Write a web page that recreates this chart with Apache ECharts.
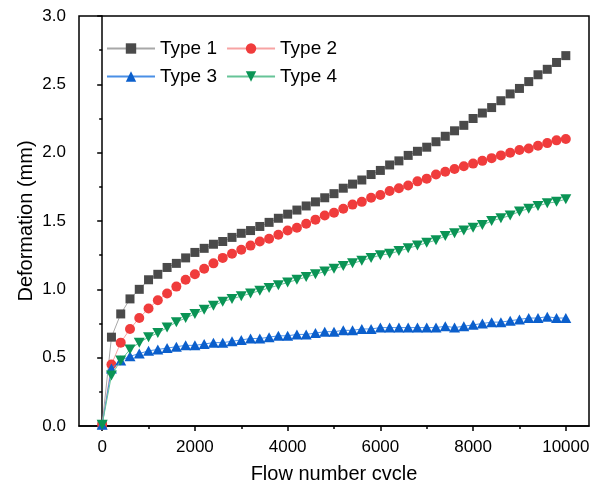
<!DOCTYPE html>
<html>
<head>
<meta charset="utf-8">
<script src="https://cdn.jsdelivr.net/npm/echarts@6/dist/echarts.min.js"></script>
<style>
  html, body { margin: 0; padding: 0; background: #fff; }
  #chart { width: 600px; height: 489px; }
</style>
</head>
<body>
<div id="chart"></div>
<script>
// flow cycles (x)
var cycles = [0, 200, 400, 600, 800, 1000, 1200, 1400, 1600, 1800,
    2000, 2200, 2400, 2600, 2800, 3000, 3200, 3400, 3600, 3800,
    4000, 4200, 4400, 4600, 4800, 5000, 5200, 5400, 5600, 5800,
    6000, 6200, 6400, 6600, 6800, 7000, 7200, 7400, 7600, 7800,
    8000, 8200, 8400, 8600, 8800, 9000, 9200, 9400, 9600, 9800, 10000];

// deformation (mm)
var type1 = [0.01, 0.65, 0.82, 0.93, 1.00, 1.07, 1.11, 1.16, 1.19, 1.23,
    1.27, 1.30, 1.33, 1.35, 1.38, 1.41, 1.43, 1.46, 1.49, 1.52,
    1.55, 1.58, 1.61, 1.64, 1.67, 1.70, 1.74, 1.77, 1.80, 1.84,
    1.87, 1.91, 1.94, 1.98, 2.01, 2.04, 2.08, 2.12, 2.16, 2.20,
    2.25, 2.29, 2.33, 2.38, 2.43, 2.47, 2.52, 2.57, 2.61, 2.66, 2.71];
var type2 = [0.01, 0.45, 0.61, 0.71, 0.79, 0.86, 0.92, 0.97, 1.02, 1.07,
    1.11, 1.15, 1.19, 1.23, 1.26, 1.29, 1.32, 1.35, 1.37, 1.40,
    1.43, 1.45, 1.48, 1.51, 1.54, 1.56, 1.59, 1.62, 1.64, 1.67,
    1.69, 1.72, 1.74, 1.76, 1.79, 1.81, 1.84, 1.86, 1.88, 1.90,
    1.92, 1.94, 1.96, 1.98, 2.00, 2.02, 2.03, 2.05, 2.07, 2.09, 2.10];
var type3 = [0.01, 0.42, 0.48, 0.51, 0.53, 0.55, 0.56, 0.57, 0.58, 0.59,
    0.59, 0.60, 0.61, 0.61, 0.62, 0.63, 0.64, 0.64, 0.65, 0.66,
    0.66, 0.67, 0.67, 0.68, 0.69, 0.69, 0.70, 0.70, 0.71, 0.71,
    0.72, 0.72, 0.72, 0.72, 0.72, 0.72, 0.72, 0.73, 0.72, 0.73,
    0.74, 0.75, 0.76, 0.76, 0.77, 0.78, 0.79, 0.79, 0.80, 0.79, 0.79];
var type4 = [0.01, 0.37, 0.48, 0.56, 0.61, 0.65, 0.68, 0.72, 0.76, 0.79,
    0.82, 0.85, 0.88, 0.91, 0.93, 0.95, 0.97, 0.99, 1.01, 1.03,
    1.05, 1.07, 1.09, 1.11, 1.13, 1.15, 1.17, 1.19, 1.21, 1.23,
    1.25, 1.26, 1.28, 1.30, 1.32, 1.34, 1.36, 1.39, 1.41, 1.43,
    1.45, 1.47, 1.50, 1.52, 1.54, 1.57, 1.59, 1.61, 1.63, 1.64, 1.66];

var xTicks = [0, 2000, 4000, 6000, 8000, 10000];
var xMinorTicks = [1000, 3000, 5000, 7000, 9000];

var names = ['Type 1', 'Type 2', 'Type 3', 'Type 4'];
var symbols = ['rect', 'circle', 'triangle', 'path://M0,0 L10,0 L5,9 Z'];
var sizes = [9, 10, [11, 10], [11, 10]];
var markColors = ['#4a4a4a', '#f03c3c', '#0b5fcc', '#0a9455'];
var lineColors = ['#a8a8a8', '#f7a3a3', '#4a8fe6', '#66c497'];
var allData = [type1, type2, type3, type4];

var font = 'Liberation Sans, Arial, sans-serif';

function pairs(vals) {
    var out = [];
    for (var i = 0; i < cycles.length; i++) {
        out.push([cycles[i], vals[i]]);
    }
    return out;
}

var series = [];
for (var k = 0; k < names.length; k++) {
    series.push({
        name: names[k],
        type: 'line',
        data: pairs(allData[k]),
        symbol: symbols[k],
        symbolSize: sizes[k],
        showAllSymbol: true,
        lineStyle: { color: lineColors[k], width: 1 },
        itemStyle: { color: markColors[k] },
        emphasis: { disabled: true },
        z: 2 + k
    });
}

var chart = echarts.init(document.getElementById('chart'));
var option = {
    animation: false,
    backgroundColor: '#fff',
    grid: {
        left: 79, right: 11, top: 16, bottom: 61,
        show: true, borderColor: '#000', borderWidth: 1.5, backgroundColor: 'transparent'
    },
    legend: {
        data: names,
        left: 101, top: 34, width: 240,
        itemWidth: 48, itemHeight: 13, itemGap: 9,
        textStyle: { fontFamily: font, fontSize: 19, color: '#000' }
    },
    xAxis: [{
        type: 'value',
        min: -500, max: 10500,
        name: 'Flow number cvcle',
        nameLocation: 'middle',
        nameGap: 38,
        nameMoveOverlap: false,
        nameTextStyle: { fontFamily: font, fontSize: 20, color: '#000' },
        splitLine: { show: false },
        axisLine: { lineStyle: { color: '#000', width: 1.5 } },
        axisTick: { customValues: xTicks, length: 5, lineStyle: { color: '#000', width: 1.5 } },
        axisLabel: {
            customValues: xTicks, margin: 13, fontFamily: font, fontSize: 17, color: '#000',
            formatter: function (v) { return String(v); }
        }
    }, {
        type: 'value',
        position: 'bottom',
        min: -500, max: 10500,
        splitLine: { show: false },
        axisLine: { show: false },
        axisTick: { customValues: xMinorTicks, length: 3, lineStyle: { color: '#000', width: 1.5 } },
        axisLabel: { show: false }
    }],
    yAxis: {
        type: 'value',
        min: 0, max: 3, interval: 0.5,
        name: 'Deformation (mm)',
        nameLocation: 'middle',
        nameGap: 43,
        nameMoveOverlap: false,
        nameTextStyle: { fontFamily: font, fontSize: 20, color: '#000' },
        splitLine: { show: false },
        axisLine: { show: true, lineStyle: { color: '#000', width: 1.5 } },
        axisTick: { length: 5, lineStyle: { color: '#000', width: 1.5 } },
        minorTick: { show: true, splitNumber: 2, length: 3, lineStyle: { color: '#000', width: 1.5 } },
        axisLabel: {
            margin: 13, fontFamily: font, fontSize: 17, color: '#000',
            formatter: function (v) { return v.toFixed(1); }
        }
    },
    series: series
};
chart.setOption(option);
</script>
</body>
</html>
